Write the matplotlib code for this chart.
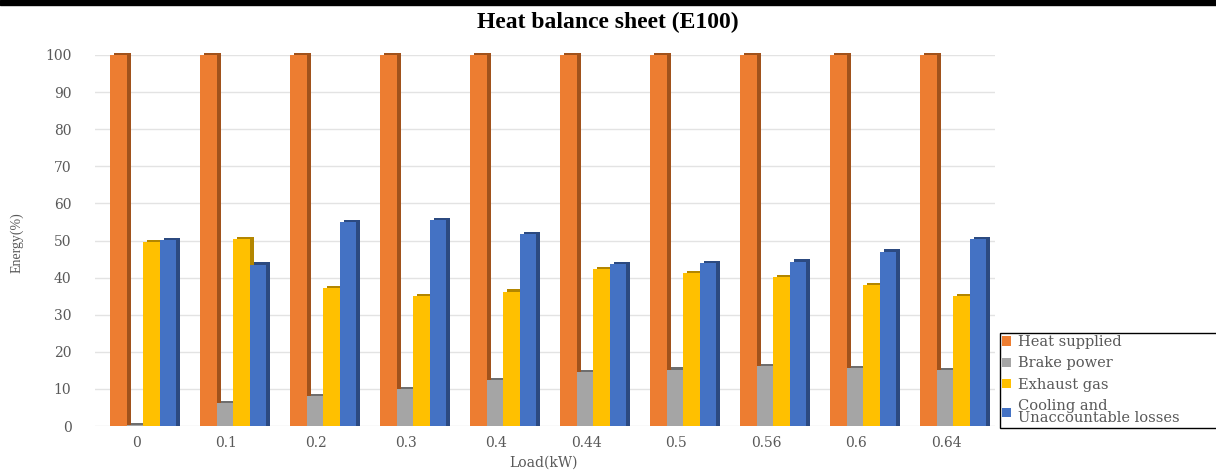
import numpy as np
import matplotlib
matplotlib.use("Agg")
import matplotlib.pyplot as plt
from matplotlib.patches import Patch, Rectangle

# data
loads = ['0', '0.1', '0.2', '0.3', '0.4', '0.44', '0.5', '0.56', '0.6', '0.64']
heat_supplied = [100, 100, 100, 100, 100, 100, 100, 100, 100, 100]
brake_power = [0.3, 6.1, 8.1, 9.9, 12.3, 14.6, 15.2, 16.2, 15.6, 15.1]
exhaust_gas = [49.6, 50.4, 37.2, 35.0, 36.2, 42.3, 41.2, 40.1, 38.0, 35.1]
cooling_losses = [50.1, 43.5, 55.0, 55.5, 51.7, 43.6, 44.0, 44.3, 47.0, 50.4]

series = [
    ('Heat supplied', heat_supplied, '#ED7D31', '#A0521C'),
    ('Brake power', brake_power, '#A5A5A5', '#6E6E6E'),
    ('Exhaust gas', exhaust_gas, '#FFC000', '#B38600'),
    ('Cooling and\nUnaccountable losses', cooling_losses, '#4472C4', '#2C4A80'),
]

fig = plt.figure(figsize=(12.16, 4.72), dpi=100)
ax = fig.add_axes([95 / 1216, 1 - 426 / 472, 900 / 1216, 371 / 472])

x = np.arange(len(loads))
w = 0.183
offsets = [-0.194, -0.01, 0.173, 0.356]
for (name, vals, col, dark), off in zip(series, offsets):
    vals = np.array(vals)
    # side/top face for a bit of the 3d look
    ax.bar(x + off + 0.045, vals + 0.6, width=w, color=dark, zorder=2, clip_on=False)
    ax.bar(x + off, vals, width=w, color=col, zorder=3, clip_on=False)

ax.set_xlim(-0.456, 9.544)
ax.set_ylim(0, 100)
ax.set_yticks(range(0, 101, 10))
ax.set_xticks(x)
ax.set_xticklabels(loads)
ax.grid(axis='y', color='#E3E3E3', linewidth=1, zorder=0)
ax.set_axisbelow(True)
for s in ax.spines.values():
    s.set_visible(False)
ax.tick_params(length=0, labelsize=10, colors='#595959', pad=17)
ax.tick_params(axis='x', pad=7)
for lab in ax.get_xticklabels() + ax.get_yticklabels():
    lab.set_family('DejaVu Serif')

fig.text(544 / 1216, 1 - 463 / 472, 'Load(kW)', ha='center', va='center',
         family='DejaVu Serif', fontsize=10, color='#595959')
fig.text(17 / 1216, 1 - 243 / 472, 'Energy(%)', ha='center', va='center', rotation=90,
         family='Liberation Serif', fontsize=10, color='#595959')

fig.text(0.5, 1 - 22 / 472, 'Heat balance sheet (E100)', ha='center', va='center',
         family='Liberation Serif', fontsize=17, fontweight='bold')
fig.patches.append(Rectangle((0, 1 - 5 / 472), 1, 5 / 472, transform=fig.transFigure,
                             color='black', zorder=10))

handles = [Patch(facecolor=c, edgecolor='none', label=n) for n, _, c, _ in series]
leg = fig.legend(handles=handles, loc='upper left', mode='expand',
                 bbox_to_anchor=(1000 / 1216, 1 - 432 / 472, 240 / 1216, 99 / 472),
                 prop={'family': 'DejaVu Serif', 'size': 10.5},
                 handlelength=0.6, handleheight=0.6, handletextpad=0.5,
                 labelspacing=0.5, borderpad=0.15, fancybox=False,
                 framealpha=1, edgecolor='black', borderaxespad=0)
for t in leg.get_texts():
    t.set_color('#595959')
    t.set_linespacing(0.85)
leg.get_frame().set_linewidth(1)

fig.savefig('out.png', dpi=100)
